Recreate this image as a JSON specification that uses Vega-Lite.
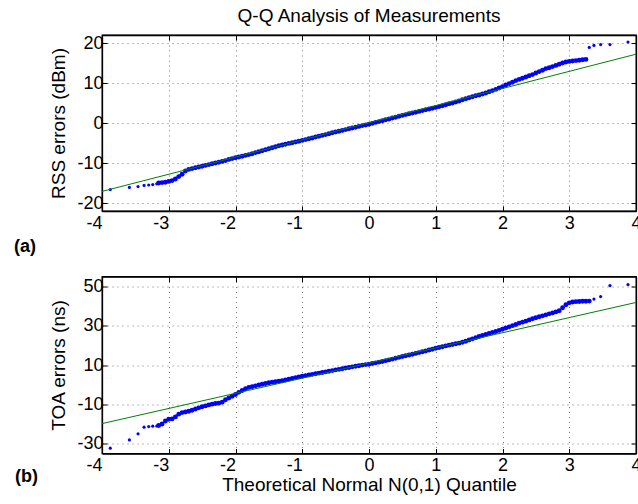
{
  "$schema": "https://vega.github.io/schema/vega-lite/v6.json",
  "autosize": {"type": "pad"},
  "padding": {"left": 13, "top": 7, "right": 2, "bottom": 2},
  "background": "white",
  "title": {"text": "Q-Q Analysis of Measurements", "fontSize": 19, "font": "Liberation Sans", "fontWeight": "normal", "anchor": "middle", "frame": "group", "offset": 7, "color": "black"},
  "config": {
    "font": "Liberation Sans",
    "view": {"stroke": "black", "strokeWidth": 1.3},
    "axis": {
      "labelFont": "Liberation Sans", "labelFontSize": 18, "labelColor": "black",
      "titleFont": "Liberation Sans", "titleFontSize": 19, "titleFontWeight": "normal", "titleColor": "black",
      "domainColor": "black", "domainWidth": 1.3, "tickColor": "black", "tickSize": -5,
      "gridColor": "#777777", "gridDash": [1, 4], "gridOpacity": 1, "gridWidth": 1,
      "labelExpr": "'' + datum.value"
    },
    "title": {"font": "Liberation Sans"}
  },
  "datasets": {
    "rssTail": [
      {"x":-3.876,"y":-16.65},{"x":-3.59,"y":-16.1},{"x":-3.46,"y":-15.9},{"x":-3.37,"y":-15.6},{"x":-3.30,"y":-15.5},{"x":-3.24,"y":-15.4},{"x":-3.18,"y":-15.2},
      {"x":3.30,"y":18.9},{"x":3.37,"y":19.4},{"x":3.47,"y":19.6},{"x":3.61,"y":19.6},{"x":3.88,"y":20.25}
    ],
    "rss": [
      {"x":-3.15,"y":-15.0},{"x":-3.10,"y":-14.9},{"x":-3.05,"y":-14.8},{"x":-3.00,"y":-14.6},{"x":-2.95,"y":-14.4},{"x":-2.90,"y":-14.0},{"x":-2.85,"y":-13.4},{"x":-2.80,"y":-12.8},{"x":-2.75,"y":-12.0},{"x":-2.70,"y":-11.6},{"x":-2.65,"y":-11.4},{"x":-2.60,"y":-11.2},{"x":-2.55,"y":-11.0},{"x":-2.50,"y":-10.8},{"x":-2.45,"y":-10.6},{"x":-2.40,"y":-10.4},{"x":-2.35,"y":-10.2},{"x":-2.30,"y":-10.0},{"x":-2.25,"y":-9.8},{"x":-2.20,"y":-9.6},{"x":-2.15,"y":-9.4},{"x":-2.10,"y":-9.1},{"x":-2.05,"y":-8.9},{"x":-2.00,"y":-8.7},{"x":-1.95,"y":-8.5},{"x":-1.90,"y":-8.3},{"x":-1.85,"y":-8.1},{"x":-1.80,"y":-7.9},{"x":-1.75,"y":-7.7},{"x":-1.70,"y":-7.4},{"x":-1.65,"y":-7.2},{"x":-1.60,"y":-6.95},{"x":-1.55,"y":-6.7},{"x":-1.50,"y":-6.45},{"x":-1.45,"y":-6.2},{"x":-1.40,"y":-5.95},{"x":-1.35,"y":-5.7},{"x":-1.30,"y":-5.5},{"x":-1.25,"y":-5.3},{"x":-1.20,"y":-5.1},{"x":-1.15,"y":-4.95},{"x":-1.10,"y":-4.75},{"x":-1.05,"y":-4.55},{"x":-1.00,"y":-4.35},{"x":-0.95,"y":-4.15},{"x":-0.90,"y":-3.95},{"x":-0.85,"y":-3.75},{"x":-0.80,"y":-3.5},{"x":-0.75,"y":-3.3},{"x":-0.70,"y":-3.1},{"x":-0.65,"y":-2.9},{"x":-0.60,"y":-2.7},{"x":-0.55,"y":-2.45},{"x":-0.50,"y":-2.25},{"x":-0.45,"y":-2.05},{"x":-0.40,"y":-1.85},{"x":-0.35,"y":-1.65},{"x":-0.30,"y":-1.45},{"x":-0.25,"y":-1.25},{"x":-0.20,"y":-1.05},{"x":-0.15,"y":-0.85},{"x":-0.10,"y":-0.65},{"x":-0.05,"y":-0.5},{"x":0.00,"y":-0.3},{"x":0.05,"y":-0.1},{"x":0.10,"y":0.15},{"x":0.15,"y":0.35},{"x":0.20,"y":0.55},{"x":0.25,"y":0.8},{"x":0.30,"y":1.0},{"x":0.35,"y":1.25},{"x":0.40,"y":1.45},{"x":0.45,"y":1.7},{"x":0.50,"y":1.9},{"x":0.55,"y":2.1},{"x":0.60,"y":2.3},{"x":0.65,"y":2.5},{"x":0.70,"y":2.7},{"x":0.75,"y":2.9},{"x":0.80,"y":3.1},{"x":0.85,"y":3.3},{"x":0.90,"y":3.5},{"x":0.95,"y":3.7},{"x":1.00,"y":3.9},{"x":1.05,"y":4.1},{"x":1.10,"y":4.3},{"x":1.15,"y":4.55},{"x":1.20,"y":4.8},{"x":1.25,"y":5.0},{"x":1.30,"y":5.25},{"x":1.35,"y":5.5},{"x":1.40,"y":5.8},{"x":1.45,"y":6.05},{"x":1.50,"y":6.3},{"x":1.55,"y":6.55},{"x":1.60,"y":6.8},{"x":1.65,"y":7.0},{"x":1.70,"y":7.25},{"x":1.75,"y":7.5},{"x":1.80,"y":7.8},{"x":1.85,"y":8.1},{"x":1.90,"y":8.4},{"x":1.95,"y":8.75},{"x":2.00,"y":9.1},{"x":2.05,"y":9.5},{"x":2.10,"y":9.85},{"x":2.15,"y":10.2},{"x":2.20,"y":10.6},{"x":2.25,"y":10.9},{"x":2.30,"y":11.2},{"x":2.35,"y":11.5},{"x":2.40,"y":11.8},{"x":2.45,"y":12.1},{"x":2.50,"y":12.5},{"x":2.55,"y":12.85},{"x":2.60,"y":13.2},{"x":2.65,"y":13.6},{"x":2.70,"y":13.8},{"x":2.75,"y":14.1},{"x":2.80,"y":14.4},{"x":2.85,"y":14.7},{"x":2.90,"y":15.0},{"x":2.95,"y":15.25},{"x":3.00,"y":15.4},{"x":3.05,"y":15.5},{"x":3.10,"y":15.6},{"x":3.15,"y":15.7},{"x":3.20,"y":15.8},{"x":3.25,"y":15.9}
    ],
    "rssLine": [{"x":-4,"y":-17.1},{"x":4,"y":17.2}],
    "toaTail": [
      {"x":-3.876,"y":-32.3},{"x":-3.59,"y":-28.1},{"x":-3.46,"y":-25.0},{"x":-3.37,"y":-21.6},{"x":-3.30,"y":-21.3},{"x":-3.24,"y":-21.1},{"x":-3.18,"y":-21.0},
      {"x":3.37,"y":43.5},{"x":3.47,"y":44.8},{"x":3.61,"y":50.4},{"x":3.88,"y":50.9}
    ],
    "toa": [
      {"x":-3.15,"y":-20.8},{"x":-3.10,"y":-20.0},{"x":-3.05,"y":-18.5},{"x":-3.00,"y":-17.6},{"x":-2.95,"y":-17.4},{"x":-2.90,"y":-16.4},{"x":-2.85,"y":-15.0},{"x":-2.80,"y":-14.2},{"x":-2.75,"y":-13.9},{"x":-2.70,"y":-13.5},{"x":-2.65,"y":-13.0},{"x":-2.60,"y":-12.4},{"x":-2.55,"y":-11.8},{"x":-2.50,"y":-11.2},{"x":-2.45,"y":-10.8},{"x":-2.40,"y":-10.3},{"x":-2.35,"y":-9.9},{"x":-2.30,"y":-9.6},{"x":-2.25,"y":-9.4},{"x":-2.20,"y":-8.9},{"x":-2.15,"y":-7.7},{"x":-2.10,"y":-6.8},{"x":-2.05,"y":-5.9},{"x":-2.00,"y":-5.0},{"x":-1.95,"y":-3.9},{"x":-1.90,"y":-3.0},{"x":-1.85,"y":-2.1},{"x":-1.80,"y":-1.4},{"x":-1.75,"y":-1.0},{"x":-1.70,"y":-0.6},{"x":-1.65,"y":-0.2},{"x":-1.60,"y":0.2},{"x":-1.55,"y":0.6},{"x":-1.50,"y":0.95},{"x":-1.45,"y":1.2},{"x":-1.40,"y":1.45},{"x":-1.35,"y":1.7},{"x":-1.30,"y":2.0},{"x":-1.25,"y":2.4},{"x":-1.20,"y":2.8},{"x":-1.15,"y":3.2},{"x":-1.10,"y":3.6},{"x":-1.05,"y":3.95},{"x":-1.00,"y":4.3},{"x":-0.95,"y":4.6},{"x":-0.90,"y":4.95},{"x":-0.85,"y":5.25},{"x":-0.80,"y":5.55},{"x":-0.75,"y":5.85},{"x":-0.70,"y":6.2},{"x":-0.65,"y":6.5},{"x":-0.60,"y":6.85},{"x":-0.55,"y":7.15},{"x":-0.50,"y":7.5},{"x":-0.45,"y":7.8},{"x":-0.40,"y":8.1},{"x":-0.35,"y":8.45},{"x":-0.30,"y":8.75},{"x":-0.25,"y":9.05},{"x":-0.20,"y":9.35},{"x":-0.15,"y":9.65},{"x":-0.10,"y":9.95},{"x":-0.05,"y":10.2},{"x":0.00,"y":10.4},{"x":0.05,"y":10.75},{"x":0.10,"y":11.1},{"x":0.15,"y":11.45},{"x":0.20,"y":11.8},{"x":0.25,"y":12.2},{"x":0.30,"y":12.6},{"x":0.35,"y":13.0},{"x":0.40,"y":13.4},{"x":0.45,"y":13.9},{"x":0.50,"y":14.3},{"x":0.55,"y":14.7},{"x":0.60,"y":15.1},{"x":0.65,"y":15.5},{"x":0.70,"y":15.9},{"x":0.75,"y":16.3},{"x":0.80,"y":16.7},{"x":0.85,"y":17.1},{"x":0.90,"y":17.6},{"x":0.95,"y":18.0},{"x":1.00,"y":18.5},{"x":1.05,"y":18.9},{"x":1.10,"y":19.3},{"x":1.15,"y":19.7},{"x":1.20,"y":20.1},{"x":1.25,"y":20.4},{"x":1.30,"y":20.8},{"x":1.35,"y":21.1},{"x":1.40,"y":21.6},{"x":1.45,"y":22.1},{"x":1.50,"y":22.7},{"x":1.55,"y":23.3},{"x":1.60,"y":23.9},{"x":1.65,"y":24.5},{"x":1.70,"y":25.0},{"x":1.75,"y":25.5},{"x":1.80,"y":26.0},{"x":1.85,"y":26.5},{"x":1.90,"y":27.0},{"x":1.95,"y":27.6},{"x":2.00,"y":28.2},{"x":2.05,"y":28.8},{"x":2.10,"y":29.4},{"x":2.15,"y":30.0},{"x":2.20,"y":30.6},{"x":2.25,"y":31.3},{"x":2.30,"y":31.8},{"x":2.35,"y":32.3},{"x":2.40,"y":32.9},{"x":2.45,"y":33.5},{"x":2.50,"y":34.0},{"x":2.55,"y":34.5},{"x":2.60,"y":35.0},{"x":2.65,"y":35.5},{"x":2.70,"y":36.0},{"x":2.75,"y":36.5},{"x":2.80,"y":37.0},{"x":2.85,"y":37.6},{"x":2.90,"y":39.1},{"x":2.95,"y":40.6},{"x":3.00,"y":41.6},{"x":3.05,"y":42.0},{"x":3.10,"y":42.2},{"x":3.15,"y":42.3},{"x":3.20,"y":42.4},{"x":3.25,"y":42.4},{"x":3.30,"y":42.5}
    ],
    "toaLine": [{"x":-4,"y":-19.8},{"x":4,"y":41.8}]
  },
  "spacing": 65.5,
  "bounds": "flush",
  "vconcat": [
    {
      "width": 534,
      "height": 176,
      "title": {"text": "(a)", "orient": "bottom", "anchor": "start", "frame": "group", "fontSize": 18, "fontWeight": "bold", "color": "black", "offset": 6, "dx": -88},
      "layer": [
        {
          "data": {"name": "rss"},
          "mark": {"type": "circle", "size": 24, "color": "#0000FF", "opacity": 1},
          "encoding": {
            "x": {"field": "x", "type": "quantitative", "scale": {"domain": [-4, 4], "nice": false, "zero": false},
                  "axis": {"orient": "bottom", "values": [-4,-3,-2,-1,0,1,2,3,4], "title": null, "labelPadding": 8, "grid": true,
                           "labelAlign": {"condition": {"test": "datum.value < 0", "value": "right"}, "value": "center"}}},
            "y": {"field": "y", "type": "quantitative", "scale": {"domain": [-22, 22], "nice": false, "zero": false},
                  "axis": {"orient": "left", "values": [-20,-10,0,10,20], "title": "RSS errors (dBm)", "labelPadding": 4, "titlePadding": 8, "grid": true}}
          }
        },
        {
          "data": {"name": "rssTail"},
          "mark": {"type": "circle", "size": 10, "color": "#0000FF", "opacity": 1},
          "encoding": {
            "x": {"field": "x", "type": "quantitative", "axis": null},
            "y": {"field": "y", "type": "quantitative", "axis": null}
          }
        },
        {
          "data": {"name": "rssLine"},
          "mark": {"type": "line", "color": "#008000", "strokeWidth": 1},
          "encoding": {
            "x": {"field": "x", "type": "quantitative", "axis": {"orient": "top", "values": [-4,-3,-2,-1,0,1,2,3,4], "labels": false, "title": null, "grid": false}},
            "y": {"field": "y", "type": "quantitative", "axis": {"orient": "right", "values": [-20,-10,0,10,20], "labels": false, "title": null, "grid": false}}
          }
        }
      ],
      "resolve": {"axis": {"x": "independent", "y": "independent"}}
    },
    {
      "width": 534,
      "height": 177,
      "title": {"text": "(b)", "orient": "bottom", "anchor": "start", "frame": "group", "fontSize": 18, "fontWeight": "bold", "color": "black", "offset": 0, "dx": -87, "dy": -27},
      "layer": [
        {
          "data": {"name": "toa"},
          "mark": {"type": "circle", "size": 24, "color": "#0000FF", "opacity": 1},
          "encoding": {
            "x": {"field": "x", "type": "quantitative", "scale": {"domain": [-4, 4], "nice": false, "zero": false},
                  "axis": {"orient": "bottom", "values": [-4,-3,-2,-1,0,1,2,3,4], "title": "Theoretical Normal N(0,1) Quantile", "labelPadding": 8, "titlePadding": 1, "grid": true,
                           "labelAlign": {"condition": {"test": "datum.value < 0", "value": "right"}, "value": "center"}}},
            "y": {"field": "y", "type": "quantitative", "scale": {"domain": [-35, 55], "nice": false, "zero": false},
                  "axis": {"orient": "left", "values": [-30,-10,10,30,50], "title": "TOA errors (ns)", "labelPadding": 4, "titlePadding": 8, "grid": true}}
          }
        },
        {
          "data": {"name": "toaTail"},
          "mark": {"type": "circle", "size": 10, "color": "#0000FF", "opacity": 1},
          "encoding": {
            "x": {"field": "x", "type": "quantitative", "axis": null},
            "y": {"field": "y", "type": "quantitative", "axis": null}
          }
        },
        {
          "data": {"name": "toaLine"},
          "mark": {"type": "line", "color": "#008000", "strokeWidth": 1},
          "encoding": {
            "x": {"field": "x", "type": "quantitative", "axis": {"orient": "top", "values": [-4,-3,-2,-1,0,1,2,3,4], "labels": false, "title": null, "grid": false}},
            "y": {"field": "y", "type": "quantitative", "axis": {"orient": "right", "values": [-30,-10,10,30,50], "labels": false, "title": null, "grid": false}}
          }
        }
      ],
      "resolve": {"axis": {"x": "independent", "y": "independent"}}
    }
  ]
}
